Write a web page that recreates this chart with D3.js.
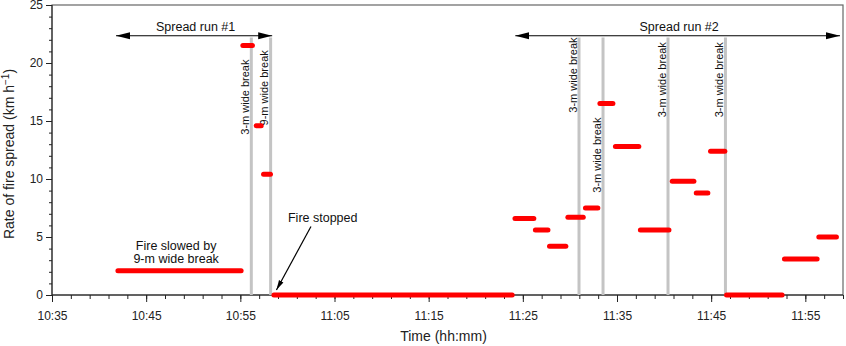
<!DOCTYPE html>
<html>
<head>
<meta charset="utf-8">
<script src="https://cdn.jsdelivr.net/npm/d3@7"></script>
<style>
  body { margin: 0; background: #fff; }
  svg { display: block; font-family: "Liberation Sans", Arial, sans-serif; }
</style>
</head>
<body>
<div id="chart"></div>
<script>
// --- data ---
const segStart = ["10:42:00","10:55:16","10:56:41","10:57:28","10:58:34",
  "11:24:10","11:26:20","11:27:50","11:29:47","11:31:39","11:33:11","11:34:50",
  "11:37:29","11:40:52","11:43:25","11:44:56","11:46:38","11:52:47","11:56:26"];
const segEnd = ["10:55:05","10:56:17","10:57:13","10:58:12","11:23:52",
  "11:26:10","11:27:40","11:29:34","11:31:25","11:32:58","11:34:34","11:37:19",
  "11:40:31","11:43:10","11:44:39","11:46:27","11:52:32","11:56:15","11:58:18"];
const rateValues = [2.1, 21.5, 14.6, 10.4, 0,
  6.6, 5.6, 4.2, 6.7, 7.5, 16.5, 12.8,
  5.6, 9.8, 8.8, 12.4, 0, 3.1, 5.0];

const breakTimes  = ["10:56:10","10:58:13","11:30:58","11:33:31","11:40:25","11:46:31"];
const breakLabels = ["3-m wide break","9-m wide break","3-m wide break","3-m wide break","3-m wide break","3-m wide break"];
const breakLabelTop = [20.3, 21.1, 22.2, 15.3, 21.8, 21.8];

const runLabels = ["Spread run #1","Spread run #2"];
const runStart  = ["10:41:48","11:24:12"];
const runEnd    = ["10:58:42","11:59:00"];

const xTickLabels = ["10:35","10:45","10:55","11:05","11:15","11:25","11:35","11:45","11:55"];
const yTickValues = [0, 5, 10, 15, 20, 25];

// --- layout ---
const W = 846, H = 346;
const margin = {top: 5, right: 3, bottom: 51, left: 52};
const iw = W - margin.left - margin.right;
const ih = H - margin.top - margin.bottom;

const parse = d3.timeParse("%H:%M:%S");
const parseHM = d3.timeParse("%H:%M");
const tMin = parseHM("10:35"), tMax = parseHM("11:59");

const x = d3.scaleTime().domain([tMin, tMax]).range([0, iw]);
const y = d3.scaleLinear().domain([0, 25]).range([ih, 0]);

const svg = d3.select("#chart").append("svg")
  .attr("width", W).attr("height", H);

const g = svg.append("g")
  .attr("transform", "translate(" + margin.left + "," + margin.top + ")");

// frame
g.append("rect")
  .attr("x", 0).attr("y", 0).attr("width", iw).attr("height", ih)
  .attr("fill", "none").attr("stroke", "#666").attr("stroke-width", 1.2);

// minor ticks
const xMinor = d3.timeMinute.range(tMin, d3.timeMinute.offset(tMax, 1), 2);
g.append("g").attr("transform", "translate(0," + ih + ")")
  .call(d3.axisBottom(x).tickValues(xMinor).tickSize(4).tickFormat(""))
  .call(a => a.select(".domain").remove())
  .selectAll("line").attr("stroke", "#222");
g.append("g")
  .call(d3.axisLeft(y).tickValues(d3.range(0, 26, 1)).tickSize(3).tickFormat(""))
  .call(a => a.select(".domain").remove())
  .selectAll("line").attr("stroke", "#222");

// major axes
const xAxis = g.append("g").attr("transform", "translate(0," + ih + ")")
  .call(d3.axisBottom(x).tickValues(xTickLabels.map(parseHM))
    .tickSize(7).tickPadding(9).tickFormat(d3.timeFormat("%H:%M")));
xAxis.select(".domain").attr("stroke", "#222").attr("d", "M0,0H" + iw);
xAxis.selectAll("line").attr("stroke", "#222");
xAxis.selectAll("text").attr("font-size", 12).attr("fill", "#222")
  .attr("font-family", "Liberation Sans, Arial, sans-serif");

const yAxis = g.append("g")
  .call(d3.axisLeft(y).tickValues(yTickValues).tickSize(6).tickPadding(3));
yAxis.select(".domain").attr("stroke", "#222").attr("d", "M0," + ih + "V0");
yAxis.selectAll("line").attr("stroke", "#222");
yAxis.selectAll("text").attr("font-size", 12).attr("fill", "#222")
  .attr("font-family", "Liberation Sans, Arial, sans-serif");

// axis titles
svg.append("text")
  .attr("x", margin.left + iw / 2 - 4).attr("y", 341)
  .attr("text-anchor", "middle").attr("font-size", 14).attr("fill", "#222")
  .text("Time (hh:mm)");

const yt = svg.append("text")
  .attr("transform", "translate(14," + (margin.top + ih / 2 + 4) + ") rotate(-90)")
  .attr("text-anchor", "middle").attr("font-size", 14).attr("fill", "#222");
yt.append("tspan").text("Rate of fire spread (km h");
yt.append("tspan").attr("dy", -5).attr("font-size", 10).text("\u22121");
yt.append("tspan").attr("dy", 5).text(")");

// break lines
const brk = breakTimes.map((t, i) => ({t: parse(t), label: breakLabels[i], top: breakLabelTop[i]}));
g.selectAll(".brk").data(brk).enter().append("line")
  .attr("class", "brk")
  .attr("x1", d => x(d.t)).attr("x2", d => x(d.t))
  .attr("y1", y(22.2)).attr("y2", y(0))
  .attr("stroke", "#c4c4c4").attr("stroke-width", 3);

g.selectAll(".brkLabel").data(brk).enter().append("text")
  .attr("class", "brkLabel")
  .attr("transform", d => "translate(" + (x(d.t) - 2.5) + "," + y(d.top) + ") rotate(-90)")
  .attr("text-anchor", "end").attr("font-size", 11).attr("fill", "#111")
  .text(d => d.label);

// rate segments
const segs = rateValues.map((v, i) => ({s: parse(segStart[i]), e: parse(segEnd[i]), v: v}));
g.selectAll(".seg").data(segs).enter().append("line")
  .attr("class", "seg")
  .attr("x1", d => x(d.s)).attr("x2", d => x(d.e))
  .attr("y1", d => y(d.v)).attr("y2", d => y(d.v))
  .attr("stroke", "#ff0000").attr("stroke-width", 5)
  .attr("stroke-linecap", "round");

// arrow markers
const defs = svg.append("defs");
defs.append("marker").attr("id", "headEnd")
  .attr("viewBox", "0 0 14 8").attr("refX", 14).attr("refY", 4)
  .attr("markerWidth", 14).attr("markerHeight", 8)
  .attr("markerUnits", "userSpaceOnUse").attr("orient", "auto")
  .append("path").attr("d", "M0,0.5L14,4L0,7.5Z").attr("fill", "#000");
defs.append("marker").attr("id", "headStart")
  .attr("viewBox", "0 0 14 8").attr("refX", 14).attr("refY", 4)
  .attr("markerWidth", 14).attr("markerHeight", 8)
  .attr("markerUnits", "userSpaceOnUse").attr("orient", "auto-start-reverse")
  .append("path").attr("d", "M0,0.5L14,4L0,7.5Z").attr("fill", "#000");
defs.append("marker").attr("id", "smallHead")
  .attr("viewBox", "0 0 10 6").attr("refX", 10).attr("refY", 3)
  .attr("markerWidth", 10).attr("markerHeight", 6)
  .attr("markerUnits", "userSpaceOnUse").attr("orient", "auto")
  .append("path").attr("d", "M0,0.5L10,3L0,5.5Z").attr("fill", "#000");

// spread run arrows
const runs = runLabels.map((l, i) => ({label: l, s: parse(runStart[i]), e: parse(runEnd[i])}));
g.selectAll(".run").data(runs).enter().append("line")
  .attr("class", "run")
  .attr("x1", d => x(d.s)).attr("x2", d => x(d.e) - 3)
  .attr("y1", y(22.35)).attr("y2", y(22.35))
  .attr("stroke", "#000").attr("stroke-width", 1.2)
  .attr("marker-start", "url(#headStart)").attr("marker-end", "url(#headEnd)");
g.selectAll(".runLabel").data(runs).enter().append("text")
  .attr("class", "runLabel")
  .attr("x", d => (x(d.s) + x(d.e)) / 2)
  .attr("y", y(22.35) - 4.5)
  .attr("text-anchor", "middle").attr("font-size", 12.5).attr("fill", "#111")
  .text(d => d.label);

// annotations
const slowed = g.append("text")
  .attr("text-anchor", "middle").attr("font-size", 12.5).attr("fill", "#111");
slowed.append("tspan").attr("x", x(parse("10:48:11"))).attr("y", y(3.88)).text("Fire slowed by");
slowed.append("tspan").attr("x", x(parse("10:48:11"))).attr("y", y(2.73)).text("9-m wide break");

g.append("text")
  .attr("x", x(parse("11:03:45"))).attr("y", y(6.3))
  .attr("text-anchor", "middle").attr("font-size", 12.5).attr("fill", "#111")
  .text("Fire stopped");
g.append("line")
  .attr("x1", x(parse("11:02:30"))).attr("y1", y(5.9))
  .attr("x2", x(parse("10:58:50"))).attr("y2", y(0.43))
  .attr("stroke", "#000").attr("stroke-width", 1.2)
  .attr("marker-end", "url(#smallHead)");
</script>
</body>
</html>
